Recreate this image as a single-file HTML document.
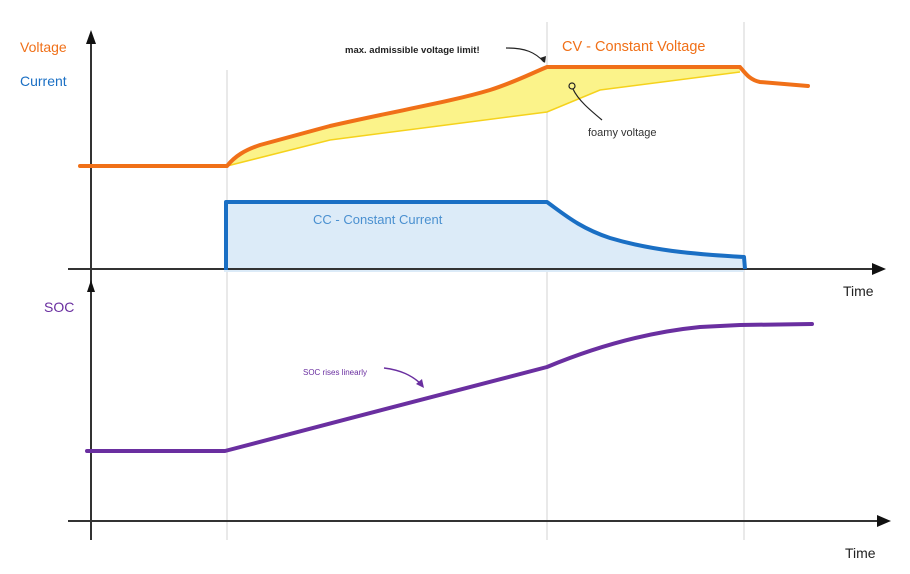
<!DOCTYPE html>
<html><head><meta charset="utf-8"><style>
body{margin:0;background:#fff}
svg{display:block}
text{font-family:"Liberation Sans",sans-serif}
</style></head><body>
<svg width="910" height="574" viewBox="0 0 910 574" xmlns="http://www.w3.org/2000/svg">
<rect width="910" height="574" fill="#fff"/>
<g stroke="#e2e2e2" stroke-width="1.5">
<line x1="227" y1="70" x2="227" y2="540"/>
<line x1="547" y1="22" x2="547" y2="540"/>
<line x1="744" y1="22" x2="744" y2="540"/>
</g>
<path d="M224 202 L547 202 C565 215 580 228 610 238 C650 250 690 254 744 257 L744 272 L224 272 Z" fill="#dcebf8"/>
<path d="M227 166 C240 150 250 146 270 141 L330 126 C400 110 450 102 490 90 C515 82 530 74 547 67 L740 67 L740 72 L600 90 L547 112 L330 140 Z" fill="#fbf38a"/>
<path d="M227 166 L330 140 L547 112 L600 90 L740 72" fill="none" stroke="#f5d21c" stroke-width="1.5"/>
<g stroke="#333" stroke-width="2" fill="none">
<line x1="91" y1="38" x2="91" y2="540"/>
<line x1="68" y1="269" x2="878" y2="269"/>
<line x1="68" y1="521" x2="883" y2="521"/>
</g>
<path d="M86 44 L91 30 L96 44 Z" fill="#111"/>
<path d="M87 292 L91 280 L95 292 Z" fill="#111"/>
<path d="M872 263 L886 269 L872 275 Z" fill="#111"/>
<path d="M877 515 L891 521 L877 527 Z" fill="#111"/>
<path d="M80 166 L227 166 C235 156 245 150 260 145 L330 126 C400 110 450 102 490 90 C515 82 530 74 547 67 L740 67 C746 74 750 80 760 82 L808 86" fill="none" stroke="#f07018" stroke-width="4" stroke-linecap="round" stroke-linejoin="round"/>
<path d="M226 270 L226 202 L547 202 C565 215 580 228 610 238 C650 250 690 254 744 257 L745 269" fill="none" stroke="#1a6fc4" stroke-width="4" stroke-linejoin="round"/>
<path d="M87 451 L225 451 C330 423 450 393 547 367 C600 345 650 332 700 327 L740 325 L812 324" fill="none" stroke="#6a2fa0" stroke-width="4" stroke-linecap="round" stroke-linejoin="round"/>
<path d="M506 48 C525 48 535 52 544 62" fill="none" stroke="#222" stroke-width="1.2"/>
<path d="M540 58 L545 63 L546 56 Z" fill="#222"/>
<circle cx="572" cy="86" r="3" fill="none" stroke="#222" stroke-width="1.2"/>
<path d="M573 89 C578 100 590 110 602 120" fill="none" stroke="#222" stroke-width="1.2"/>
<path d="M384 368 C400 370 412 375 422 385" fill="none" stroke="#6a2fa0" stroke-width="1.5"/>
<path d="M416 384 L424 388 L422 379 Z" fill="#6a2fa0"/>
<text x="20" y="52" font-size="14" fill="#f07018">Voltage</text>
<text x="20" y="86" font-size="14" fill="#1a6fc4">Current</text>
<text x="44" y="312" font-size="14" fill="#6a2fa0">SOC</text>
<text x="843" y="296" font-size="14" fill="#222">Time</text>
<text x="845" y="558" font-size="14" fill="#222">Time</text>
<text x="345" y="53" font-size="9.5" fill="#222" font-weight="bold">max. admissible voltage limit!</text>
<text x="562" y="51" font-size="14.5" fill="#f07018">CV - Constant Voltage</text>
<text x="588" y="136" font-size="11" fill="#333">foamy voltage</text>
<text x="313" y="224" font-size="13" fill="#4a90d0">CC - Constant Current</text>
<text x="303" y="375" font-size="8" fill="#6a2fa0">SOC rises linearly</text>
</svg>
</body></html>
